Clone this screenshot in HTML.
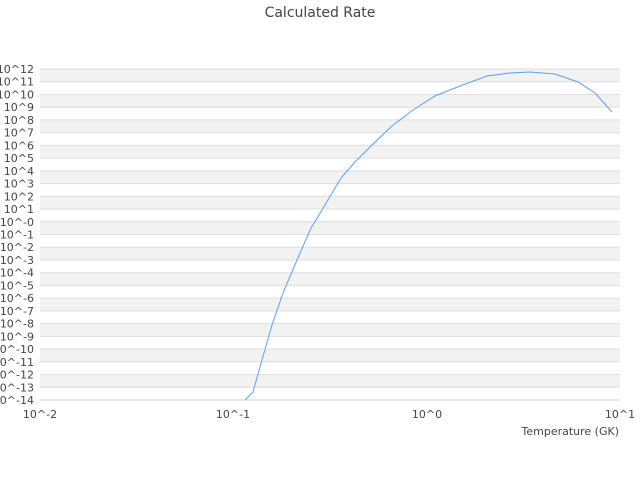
<!DOCTYPE html>
<html><head><meta charset="utf-8"><style>body{margin:0;background:#fff}svg{display:block}text{font-family:"DejaVu Sans","Liberation Sans",sans-serif;fill:#444;font-size:11px}</style></head><body>
<svg width="640" height="480" xmlns="http://www.w3.org/2000/svg">
<text x="320" y="17" text-anchor="middle" font-size="14" style="font-size:14px">Calculated Rate</text>
<g fill="#f2f2f2">
<rect x="40" y="69" width="580" height="12.73"/>
<rect x="40" y="94.46" width="580" height="12.73"/>
<rect x="40" y="119.92" width="580" height="12.73"/>
<rect x="40" y="145.38" width="580" height="12.73"/>
<rect x="40" y="170.85" width="580" height="12.73"/>
<rect x="40" y="196.31" width="580" height="12.73"/>
<rect x="40" y="221.77" width="580" height="12.73"/>
<rect x="40" y="247.23" width="580" height="12.73"/>
<rect x="40" y="272.69" width="580" height="12.73"/>
<rect x="40" y="298.15" width="580" height="12.73"/>
<rect x="40" y="323.62" width="580" height="12.73"/>
<rect x="40" y="349.08" width="580" height="12.73"/>
<rect x="40" y="374.54" width="580" height="12.73"/>
</g>
<g stroke="#ddd">
<line x1="40" x2="620" y1="69" y2="69"/><line x1="40" x2="620" y1="81.73" y2="81.73"/><line x1="40" x2="620" y1="94.46" y2="94.46"/><line x1="40" x2="620" y1="107.19" y2="107.19"/><line x1="40" x2="620" y1="119.92" y2="119.92"/><line x1="40" x2="620" y1="132.65" y2="132.65"/><line x1="40" x2="620" y1="145.38" y2="145.38"/><line x1="40" x2="620" y1="158.12" y2="158.12"/><line x1="40" x2="620" y1="170.85" y2="170.85"/><line x1="40" x2="620" y1="183.58" y2="183.58"/><line x1="40" x2="620" y1="196.31" y2="196.31"/><line x1="40" x2="620" y1="209.04" y2="209.04"/><line x1="40" x2="620" y1="221.77" y2="221.77"/><line x1="40" x2="620" y1="234.5" y2="234.5"/><line x1="40" x2="620" y1="247.23" y2="247.23"/><line x1="40" x2="620" y1="259.96" y2="259.96"/><line x1="40" x2="620" y1="272.69" y2="272.69"/><line x1="40" x2="620" y1="285.42" y2="285.42"/><line x1="40" x2="620" y1="298.15" y2="298.15"/><line x1="40" x2="620" y1="310.88" y2="310.88"/><line x1="40" x2="620" y1="323.62" y2="323.62"/><line x1="40" x2="620" y1="336.35" y2="336.35"/><line x1="40" x2="620" y1="349.08" y2="349.08"/><line x1="40" x2="620" y1="361.81" y2="361.81"/><line x1="40" x2="620" y1="374.54" y2="374.54"/><line x1="40" x2="620" y1="387.27" y2="387.27"/>
</g>
<line x1="40" x2="620" y1="400" y2="400" stroke="#ccc"/>
<g text-anchor="end">
<text x="34" y="73">10^12</text><text x="34" y="85.7">10^11</text><text x="34" y="98.5">10^10</text><text x="34" y="111.2">10^9</text><text x="34" y="123.9">10^8</text><text x="34" y="136.7">10^7</text><text x="34" y="149.4">10^6</text><text x="34" y="162.1">10^5</text><text x="34" y="174.8">10^4</text><text x="34" y="187.6">10^3</text><text x="34" y="200.3">10^2</text><text x="34" y="213">10^1</text><text x="34" y="225.8">10^-0</text><text x="34" y="238.5">10^-1</text><text x="34" y="251.2">10^-2</text><text x="34" y="264">10^-3</text><text x="34" y="276.7">10^-4</text><text x="34" y="289.4">10^-5</text><text x="34" y="302.2">10^-6</text><text x="34" y="314.9">10^-7</text><text x="34" y="327.6">10^-8</text><text x="34" y="340.3">10^-9</text><text x="34" y="353.1">10^-10</text><text x="34" y="365.8">10^-11</text><text x="34" y="378.5">10^-12</text><text x="34" y="391.3">10^-13</text><text x="34" y="404">10^-14</text>
</g>
<polyline fill="none" stroke="#5aa0ee" stroke-width="1" points="245,400 253,392 262,360 272,325 283,293 297,260 311,228 322,210 341,178 355,162 372,145 392,126 413,110 435,96 460,86 487,76 510,73 530,72 555,74 578,82 595,93 612,112"/>
<text x="40" y="418" text-anchor="middle">10^-2</text>
<text x="233" y="418" text-anchor="middle">10^-1</text>
<text x="427" y="418" text-anchor="middle">10^0</text>
<text x="620" y="418" text-anchor="middle">10^1</text>
<text x="619" y="435" text-anchor="end">Temperature (GK)</text>
</svg>
</body></html>
